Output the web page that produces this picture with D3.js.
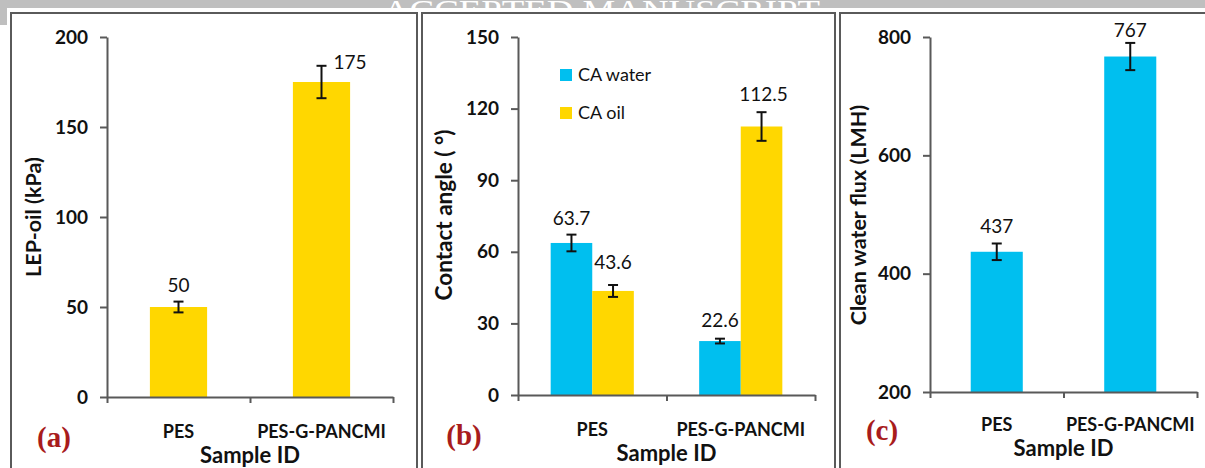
<!DOCTYPE html>
<html lang="en">
<meta charset="utf-8">
<head>
<script src="https://d3js.org/d3.v7.min.js"></script>
<style>
  body { margin: 0; background: #fff; }
  text { font-family: Lato, "Open Sans", sans-serif; }
</style>
</head>
<body>
<script>
    // values
    var samples = ["PES", "PES-G-PANCMI"];
    var lepOil = [50, 175];
    var lepOilErr = [3, 9];
    var caWater = [63.7, 22.6];
    var caWaterErr = [3.5, 1];
    var caOil = [43.6, 112.5];
    var caOilErr = [2.5, 6];
    var flux = [437, 767];
    var fluxErr = [14, 23];
    var lepTicks = [0, 50, 100, 150, 200];
    var caTicks = [0, 30, 60, 90, 120, 150];
    var fluxTicks = [200, 400, 600, 800];
    var caSeries = ["CA water", "CA oil"];

    var blue = "#00bfef";
    var yellow = "#ffd700";
    var axisColor = "#595959";

    var W = 1205, H = 468;

    var svg = d3.select("body")
        .append("svg")
        .attr("width", W)
        .attr("height", H);

    // grey strip of the page behind the figure
    svg.append("rect").attr("x", 0).attr("y", 0).attr("width", W).attr("height", 8).attr("fill", "#bfbfbf");
    svg.append("rect").attr("x", 0).attr("y", 0).attr("width", 7).attr("height", 25).attr("fill", "#bfbfbf");
    svg.append("text")
        .text("ACCEPTED MANUSCRIPT")
        .attr("x", 383)
        .attr("y", 20)
        .attr("textLength", 437)
        .attr("lengthAdjust", "spacingAndGlyphs")
        .style("font-family", "'Liberation Serif', serif")
        .style("font-size", "30px")
        .attr("fill", "#fff");

    function panel(p) {
        var g = svg.append("g");

        g.append("rect")
            .attr("x", p.frame[0])
            .attr("y", 13)
            .attr("width", p.frame[1] - p.frame[0])
            .attr("height", H)
            .attr("fill", "none")
            .attr("stroke", "#5a5a5a")
            .attr("stroke-width", 2);

        var x = d3.scaleBand()
            .domain(samples)
            .range([p.x0, p.x1]);

        var y = d3.scaleLinear()
            .domain(p.domain)
            .range([p.y0, 37]);

        var inner = d3.scaleBand()
            .domain(d3.range(p.series.length))
            .range([0, x.bandwidth() * p.barFrac]);

        var offset = x.bandwidth() * (1 - p.barFrac) / 2;

        p.series.forEach(function(s, si) {
            var bar = g.selectAll(".bar" + si)
                .data(samples)
                .enter()
                .append("g");

            bar.append("rect")
                .attr("x", function(d) { return x(d) + offset + inner(si) })
                .attr("y", function(d, i) { return y(s.values[i]) })
                .attr("width", inner.bandwidth())
                .attr("height", function(d, i) { return y(p.domain[0]) - y(s.values[i]) })
                .attr("fill", s.color);

            var cx = function(d) { return x(d) + offset + inner(si) + inner.bandwidth() / 2 };

            bar.append("line")
                .attr("x1", cx).attr("x2", cx)
                .attr("y1", function(d, i) { return y(s.values[i] + s.errs[i]) })
                .attr("y2", function(d, i) { return y(s.values[i] - s.errs[i]) })
                .attr("stroke", "#111").attr("stroke-width", 2);

            [1, -1].forEach(function(sign) {
                bar.append("line")
                    .attr("x1", function(d) { return cx(d) - 5 })
                    .attr("x2", function(d) { return cx(d) + 5 })
                    .attr("y1", function(d, i) { return y(s.values[i] + sign * s.errs[i]) })
                    .attr("y2", function(d, i) { return y(s.values[i] + sign * s.errs[i]) })
                    .attr("stroke", "#111").attr("stroke-width", 2);
            });

            bar.append("text")
                .text(function(d, i) { return s.values[i] })
                .attr("x", function(d, i) { return cx(d) + s.labels[i][0] })
                .attr("y", function(d, i) { return y(s.values[i] + s.errs[i]) + s.labels[i][1] })
                .attr("text-anchor", function(d, i) { return s.labels[i][2] || "middle" })
                .style("font-size", "19px")
                .attr("fill", "#111");
        });

        // axes
        var yAxis = g.append("g")
            .attr("transform", "translate(" + p.x0 + ",0)")
            .call(d3.axisLeft(y).tickValues(p.ticks).tickSize(7).tickSizeOuter(0).tickPadding(12));

        var xb = d3.scaleLinear().domain([0, samples.length]).range([p.x0, p.x1]);
        var xAxis = g.append("g")
            .attr("transform", "translate(0," + p.y0 + ")")
            .call(d3.axisBottom(xb).tickValues(d3.range(samples.length + 1)).tickSize(6).tickSizeOuter(0).tickFormat(""));

        [yAxis, xAxis].forEach(function(a) {
            a.select(".domain").attr("stroke", axisColor).attr("stroke-width", 2);
            a.selectAll(".tick line").attr("stroke", axisColor).attr("stroke-width", 2);
        });
        yAxis.selectAll(".tick text")
            .style("font-family", "Lato, sans-serif")
            .style("font-size", "19px")
            .style("font-weight", "bold")
            .attr("fill", "#111");

        g.selectAll(".cat")
            .data(samples)
            .enter()
            .append("text")
            .text(function(d) { return d })
            .attr("x", function(d) { return x(d) + x.bandwidth() / 2 })
            .attr("y", p.catY)
            .attr("text-anchor", "middle")
            .style("font-size", "18px")
            .style("font-weight", "bold")
            .attr("fill", "#111");

        g.append("text")
            .text("Sample ID")
            .attr("x", (p.x0 + p.x1) / 2)
            .attr("y", p.catY + 25)
            .attr("text-anchor", "middle")
            .style("font-size", "22px")
            .style("font-weight", "bold")
            .attr("fill", "#111");

        g.append("text")
            .text(p.title)
            .attr("transform", "translate(" + p.titleX + "," + p.titleY + ") rotate(-90)")
            .attr("text-anchor", "middle")
            .style("font-size", p.titleSize + "px")
            .style("font-weight", "bold")
            .attr("fill", "#111");

        g.append("text")
            .text(p.tag)
            .attr("x", p.tagX)
            .attr("y", p.catY + 9)
            .attr("text-anchor", "middle")
            .style("font-family", "'Liberation Serif', 'DejaVu Serif', serif")
            .style("font-size", "29px")
            .style("font-weight", "bold")
            .attr("fill", "#a81c1c");

        return g;
    }

    panel({
        frame: [11, 417], x0: 107, x1: 393, y0: 397, domain: [0, 200], ticks: lepTicks,
        barFrac: 0.4, catY: 438, title: "LEP-oil (kPa)", titleX: 41, titleY: 217, titleSize: 21.5,
        tag: "(a)", tagX: 54,
        series: [{ values: lepOil, errs: lepOilErr, color: yellow,
                   labels: [[0, -10], [12, 3, "start"]] }]
    });

    var pb = panel({
        frame: [422, 835], x0: 518, x1: 815, y0: 395, domain: [0, 150], ticks: caTicks,
        barFrac: 0.56, catY: 436, title: "Contact angle ( °)", titleX: 452, titleY: 215, titleSize: 22.5,
        tag: "(b)", tagX: 464,
        series: [{ values: caWater, errs: caWaterErr, color: blue,
                   labels: [[0, -10], [0, -12]] },
                 { values: caOil, errs: caOilErr, color: yellow,
                   labels: [[0, -16], [2, -11]] }]
    });

    // legend of panel (b)
    var legend = pb.selectAll(".legend")
        .data(caSeries)
        .enter()
        .append("g")
        .attr("transform", function(d, i) { return "translate(560," + (69 + i * 38) + ")" });
    legend.append("rect")
        .attr("width", 12).attr("height", 12)
        .attr("fill", function(d, i) { return [blue, yellow][i] });
    legend.append("text")
        .text(function(d) { return d })
        .attr("x", 18).attr("y", 12)
        .style("font-size", "18px")
        .attr("fill", "#111");

    panel({
        frame: [840, 1215], x0: 930, x1: 1197, y0: 392, domain: [200, 800], ticks: fluxTicks,
        barFrac: 0.39, catY: 431, title: "Clean water flux (LMH)", titleX: 866, titleY: 215, titleSize: 21.5,
        tag: "(c)", tagX: 882,
        series: [{ values: flux, errs: fluxErr, color: blue,
                   labels: [[0, -10], [0, -6]] }]
    });
</script>
</body>
</html>
